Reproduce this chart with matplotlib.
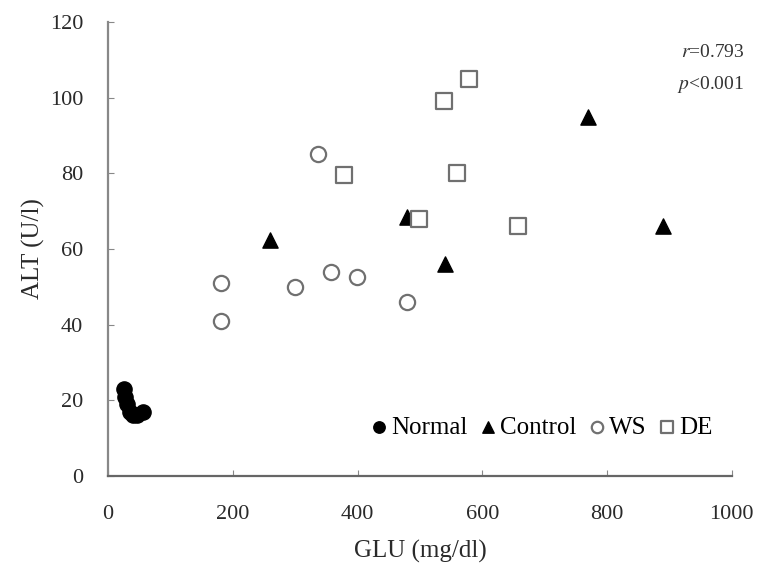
import matplotlib.pyplot as plt

plt.rcParams['font.family'] = ['Liberation Serif', 'DejaVu Serif']

# data
normal_glu = [25, 28, 30, 35, 40, 47, 56]
normal_alt = [23, 21, 19, 17, 16, 16, 17]

control_glu = [260, 480, 540, 770, 890]
control_alt = [62.5, 68.5, 56, 95, 66]

ws_glu = [181, 181, 300, 337, 357, 399, 479]
ws_alt = [51, 41, 50, 85, 54, 52.5, 46]

de_glu = [378, 498, 538, 559, 578, 657]
de_alt = [79.5, 68, 99, 80, 105, 66]

fig = plt.figure(figsize=(7.58, 5.71), dpi=100)
ax = fig.add_axes([0.1425, 0.1664, 0.823, 0.795])

ax.scatter(normal_glu, normal_alt, marker='o', s=120, color='black', label='Normal', zorder=3)
ax.scatter(control_glu, control_alt, marker='^', s=120, color='black', label='Control', zorder=3)
ax.scatter(ws_glu, ws_alt, marker='o', s=120, facecolor='white', edgecolor='#707070',
           linewidth=1.6, label='WS', zorder=3)
ax.scatter(de_glu, de_alt, marker='s', s=120, facecolor='white', edgecolor='#707070',
           linewidth=1.6, label='DE', zorder=3)

ax.set_xlim(0, 1000)
ax.set_ylim(0, 120)
ax.set_xticks(range(0, 1001, 200))
ax.set_yticks(range(0, 121, 20))

for side in ['top', 'right']:
    ax.spines[side].set_visible(False)
ax.spines['left'].set_color('#888888')
ax.spines['bottom'].set_color('#666666')
ax.spines['left'].set_linewidth(1.6)
ax.spines['bottom'].set_linewidth(1.6)
ax.tick_params(direction='in', length=4, color='#888888', labelsize=16,
               labelcolor='#2a2a2a')
ax.tick_params(axis='x', pad=21)
ax.tick_params(axis='y', pad=18)

ax.set_xlabel('GLU (mg/dl)', fontsize=18, color='#2a2a2a', labelpad=11)
ax.set_ylabel('ALT (U/l)', fontsize=18, color='#2a2a2a', labelpad=3)

ax.text(1.02, 0.934, r'$r$=0.793', transform=ax.transAxes, ha='right', va='center',
        fontsize=14, color='#333333', math_fontfamily='stix')
ax.text(1.02, 0.863, r'$p$<0.001', transform=ax.transAxes, ha='right', va='center',
        fontsize=14, color='#333333', math_fontfamily='stix')

ax.legend(loc='lower right', bbox_to_anchor=(0.985, 0.06), ncol=4, frameon=False,
          fontsize=18, handletextpad=0.0, columnspacing=0.3, handlelength=1.0,
          markerscale=0.75, borderaxespad=0)

plt.savefig('out.png', dpi=100)
